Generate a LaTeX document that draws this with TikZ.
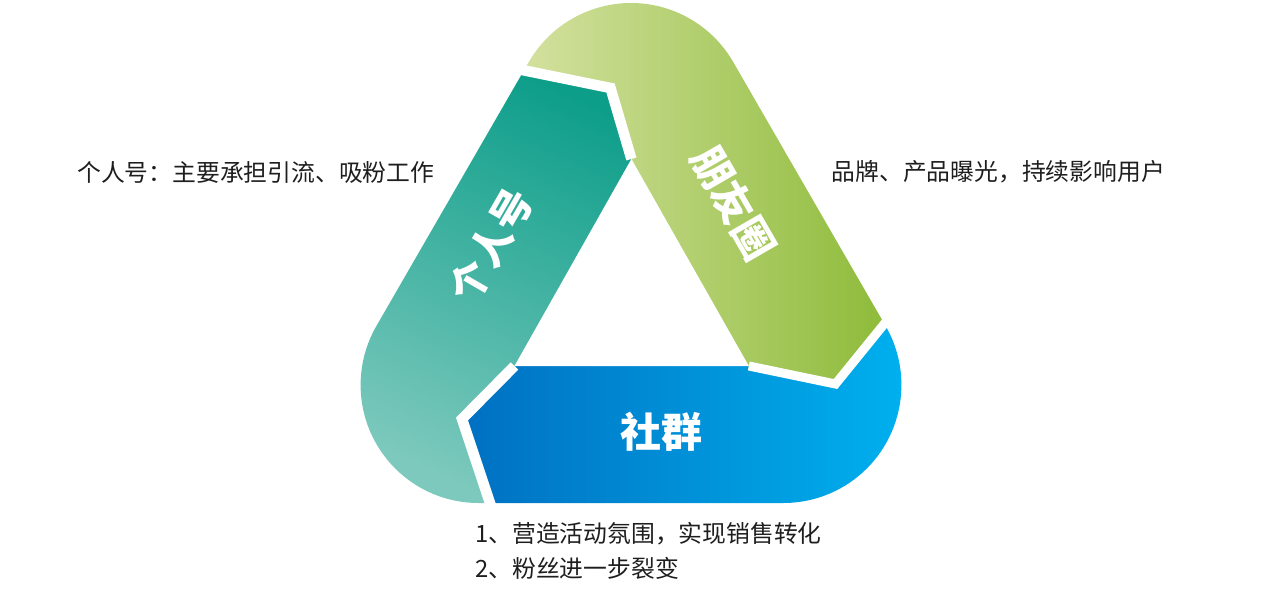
\documentclass[tikz,border=0pt]{standalone}
\usepackage{fontspec}
\newfontfamily\cjk{Noto Sans CJK SC}
\begin{document}
\begin{tikzpicture}[x=1pt,y=1pt]
\definecolor{tealD}{HTML}{0D9E8A}
\definecolor{tealL}{HTML}{7DC9BD}
\definecolor{greenL}{HTML}{D4E1A0}
\definecolor{greenR}{HTML}{8DBB39}
\definecolor{blueL}{HTML}{0070C2}
\definecolor{blueR}{HTML}{00B0EE}
\definecolor{txt}{HTML}{1E1E1E}
\tikzset{
  cutline/.style={white, line width=10.5pt, line join=miter},
  desc/.style={anchor=west, inner sep=0pt, text=txt, font=\cjk\fontsize{23.8}{28}\selectfont},
  seglabel/.style={inner sep=0pt, text=white, font=\cjk\bfseries\fontsize{41}{48}\selectfont}
}
\useasboundingbox (0,0) rectangle (1267,590);
\def\outerpath{(528.8,528) arc[start angle=150,end angle=30,radius=118] -- (885.6,264) arc[start angle=30,end angle=-90,radius=118] -- (478.6,87) arc[start angle=-90,end angle=-210,radius=118] -- cycle}
% centre, hole corners, cut points
\coordinate (C) at (631,293);
\coordinate (A1) at (631.4,431);
\coordinate (A2) at (748.8,224);
\coordinate (A3) at (514.5,224);
\coordinate (M1) at (610.5,502);
\coordinate (O1x) at (352.5,554.5);
\coordinate (M2) at (835.5,206);
\coordinate (O2x) at (984,389);
\coordinate (M3) at (462,171);
\coordinate (O3x) at (547,-84);
% teal segment
\begin{scope}
\clip (C) -- (A1) -- (M1) -- (O1x) -- (100,600) -- (100,-100) -- (O3x) -- (M3) -- (A3) -- cycle;
\clip \outerpath;
\shade[top color=tealD, bottom color=tealL, shading angle=-25] (355,80) rectangle (650,530);
\end{scope}
% green segment
\begin{scope}
\clip (C) -- (A1) -- (M1) -- (O1x) -- (352,700) -- (1100,700) -- (1100,389) -- (O2x) -- (M2) -- (A2) -- cycle;
\clip \outerpath;
\shade[left color=greenL, right color=greenR] (520,200) rectangle (890,590);
\end{scope}
% blue segment
\begin{scope}
\clip (C) -- (A2) -- (M2) -- (O2x) -- (1100,389) -- (1100,-100) -- (O3x) -- (M3) -- (A3) -- cycle;
\clip \outerpath;
\shade[left color=blueL, right color=blueR] (465,85) rectangle (905,275);
\end{scope}
% hole and cuts
\fill[white] (A1) -- (A3) -- (A2) -- cycle;
\draw[cutline] (A1) -- (M1) -- (O1x);
\draw[cutline, line width=9pt] (A2) -- (M2) -- (O2x);
\draw[cutline] (A3) -- (M3) -- (O3x);
% segment labels
\node[seglabel, rotate=60] (lg) at (491,345) {个人号};
\node[seglabel, rotate=-60] (lp) at (733.5,387) {朋友圈};
\node[seglabel] (ls) at (661,158) {社群};
% descriptions
\node[desc] (d1) at (77,418) {个人号：主要承担引流、吸粉工作};
\node[desc] (d2) at (831.5,418) {品牌、产品曝光，持续影响用户};
\node[desc] (d3) at (475,56) {1、营造活动氛围，实现销售转化};
\node[desc] (d4) at (475,22) {2、粉丝进一步裂变};
\end{tikzpicture}
\end{document}
